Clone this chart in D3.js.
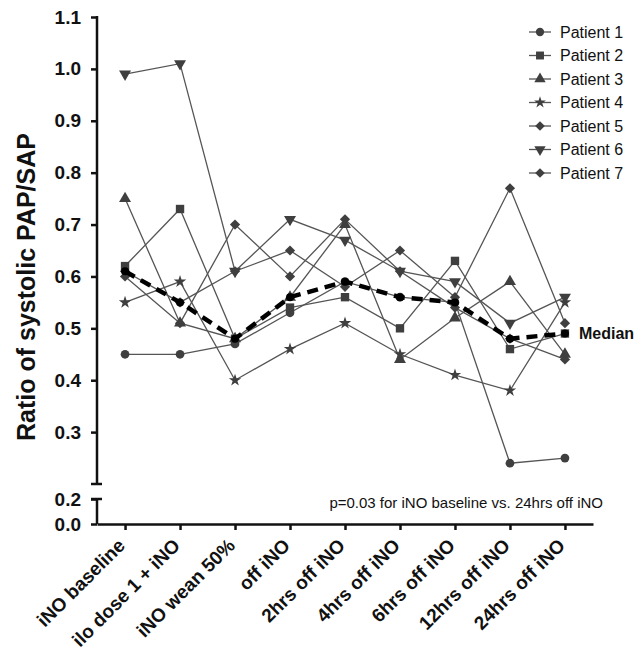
<!DOCTYPE html>
<html>
<head>
	<title>PAP/SAP ratio</title>
	<style type="text/css">
		body{ margin:0; background:#fff; }
		text{ font-family: Arial, 'Liberation Sans', sans-serif; }
	</style>
</head>
<body>

	<svg width=644 height=655 class="chart"></svg>
	<script type="text/javascript" src="https://cdn.jsdelivr.net/npm/d3@7/dist/d3.min.js"></script>
	<script type="text/javascript">

		categories = ['iNO baseline', 'ilo dose 1 + iNO', 'iNO wean 50%', 'off iNO', '2hrs off iNO',
			'4hrs off iNO', '6hrs off iNO', '12hrs off iNO', '24hrs off iNO']

		patient1 = [0.45, 0.45, 0.47, 0.53, 0.59, 0.56, 0.55, 0.24, 0.25]
		patient2 = [0.62, 0.73, 0.48, 0.54, 0.56, 0.50, 0.63, 0.46, 0.49]
		patient3 = [0.75, 0.51, 0.48, 0.56, 0.70, 0.44, 0.52, 0.59, 0.45]
		patient4 = [0.55, 0.59, 0.40, 0.46, 0.51, 0.45, 0.41, 0.38, 0.55]
		patient5 = [0.60, 0.51, 0.70, 0.60, 0.71, 0.61, 0.54, 0.48, 0.44]
		patient6 = [0.99, 1.01, 0.61, 0.71, 0.67, 0.61, 0.59, 0.51, 0.56]
		patient7 = [0.61, 0.55, 0.61, 0.65, 0.58, 0.65, 0.56, 0.77, 0.51]
		median   = [0.61, 0.55, 0.48, 0.56, 0.59, 0.56, 0.55, 0.48, 0.49]

		upperTicks = [0.3, 0.4, 0.5, 0.6, 0.7, 0.8, 0.9, 1.0, 1.1]
		lowerTicks = [0.0, 0.2]

		series = [
			{name: 'Patient 1', values: patient1, shape: 'circle'},
			{name: 'Patient 2', values: patient2, shape: 'square'},
			{name: 'Patient 3', values: patient3, shape: 'triangle'},
			{name: 'Patient 4', values: patient4, shape: 'star'},
			{name: 'Patient 5', values: patient5, shape: 'diamond'},
			{name: 'Patient 6', values: patient6, shape: 'down'},
			{name: 'Patient 7', values: patient7, shape: 'diamond'}
		]

		svg = d3.select('.chart')
		markColor = '#3f3f3f'
		lineColor = '#555'

		// x axis spans 97..593, points at 125..565
		x = d3.scalePoint().domain(categories).range([97, 593]).padding(0.51)
		// broken y axis: top part 0.2..1.1, bottom part 0..0.2
		yTop = d3.scaleLinear().domain([0.2, 1.1]).range([484, 17])
		yBot = d3.scaleLinear().domain([0, 0.2]).range([524, 499])

		function symbolPath(shape, scale){
			s = scale || 1
			if (shape == 'circle') return d3.symbol(d3.symbolCircle, 60*s)()
			if (shape == 'square') return d3.symbol(d3.symbolSquare, 70*s)()
			if (shape == 'triangle' || shape == 'down') return d3.symbol(d3.symbolTriangle, 62*s)()
			if (shape == 'star') return d3.symbol(d3.symbolStar, 48*s)()
			if (shape == 'diamond') return d3.symbol(d3.symbolSquare, 52*s)()
		}
		function symbolRotate(shape){
			if (shape == 'down') return ' rotate(180)'
			if (shape == 'diamond') return ' rotate(45)'
			return ''
		}

		line = d3.line()
			.x(function(d, i){ return x(categories[i]) })
			.y(function(d){ return yTop(d) })

		// axes
		axisTop = d3.axisLeft(yTop).tickValues(upperTicks).tickSize(6).tickFormat(d3.format('.1f'))
		gTop = svg.append('g').attr('class', 'y-top').attr('transform', 'translate(97,0)').call(axisTop)
		axisBot = d3.axisLeft(yBot).tickValues(lowerTicks).tickSize(6).tickFormat(d3.format('.1f'))
		gBot = svg.append('g').attr('class', 'y-bot').attr('transform', 'translate(97,0)').call(axisBot)

		svg.selectAll('.y-top .domain, .y-bot .domain').remove()
		svg.selectAll('.y-top line, .y-bot line').attr('stroke', '#111').attr('stroke-width', 2.5)
		svg.selectAll('.y-top text, .y-bot text')
			.attr('font-size', 19).attr('font-weight', 'bold').attr('fill', '#111').attr('x', -16)

		svg.append('line').attr('x1', 97).attr('x2', 97).attr('y1', yTop(1.1) - 1).attr('y2', yTop(0.2))
			.attr('stroke', '#111').attr('stroke-width', 2.5)
		svg.append('line').attr('x1', 91).attr('x2', 102).attr('y1', yTop(0.2)).attr('y2', yTop(0.2))
			.attr('stroke', '#111').attr('stroke-width', 2.5)
		svg.append('line').attr('x1', 97).attr('x2', 97).attr('y1', yBot(0.2)).attr('y2', yBot(0))
			.attr('stroke', '#111').attr('stroke-width', 2.5)
		svg.append('line').attr('x1', 91).attr('x2', 102).attr('y1', yBot(0.2)).attr('y2', yBot(0.2))
			.attr('stroke', '#111').attr('stroke-width', 2.5)

		axisX = d3.axisBottom(x).tickSize(6).tickSizeOuter(0)
		gx = svg.append('g').attr('class', 'x-axis').attr('transform', 'translate(0,' + yBot(0) + ')').call(axisX)
		gx.select('.domain').attr('stroke', '#111').attr('stroke-width', 2.5)
		gx.selectAll('line').attr('stroke', '#111').attr('stroke-width', 2.5)
		gx.selectAll('text')
			.attr('font-size', 19).attr('font-weight', 'bold').attr('fill', '#111')
			.attr('text-anchor', 'end')
			.attr('x', 0).attr('y', 0).attr('dy', '0.35em')
			.attr('transform', 'translate(-4,18) rotate(-45)')

		svg.append('text')
			.attr('transform', 'translate(26,' + 287 + ') rotate(-90)')
			.attr('text-anchor', 'middle')
			.attr('dy', '0.35em')
			.attr('font-size', 25).attr('font-weight', 'bold').attr('fill', '#111')
			.text('Ratio of systolic PAP/SAP')

		// patient lines
		svg.append('g')
			.selectAll('path')
			.data(series)
			.enter()
			.append('path')
			.attr('d', function(d){ return line(d.values) })
			.attr('fill', 'none')
			.attr('stroke', lineColor)
			.attr('stroke-width', 1.3)

		// patient markers
		series.forEach(function(s){
			svg.append('g')
				.selectAll('path')
				.data(s.values)
				.enter()
				.append('path')
				.attr('d', symbolPath(s.shape))
				.attr('transform', function(d, i){
					return 'translate(' + x(categories[i]) + ',' + yTop(d) + ')' + symbolRotate(s.shape)
				})
				.attr('fill', markColor)
		})

		// median
		svg.append('path')
			.attr('d', line(median))
			.attr('fill', 'none')
			.attr('stroke', '#000')
			.attr('stroke-width', 4.5)
			.attr('stroke-dasharray', '11,7')
		svg.append('g')
			.selectAll('circle')
			.data(median)
			.enter()
			.append('circle')
			.attr('cx', function(d, i){ return x(categories[i]) })
			.attr('cy', function(d){ return yTop(d) })
			.attr('r', 4)
			.attr('fill', '#000')

		svg.append('text')
			.attr('x', x(categories[8]) + 14)
			.attr('y', yTop(median[8]))
			.attr('dy', '0.35em')
			.attr('font-size', 16).attr('font-weight', 'bold').attr('fill', '#111')
			.text('Median')

		// legend
		legend = svg.append('g').attr('class', 'legend')
		rows = legend.selectAll('g')
			.data(series)
			.enter()
			.append('g')
			.attr('transform', function(d, i){ return 'translate(540,' + (32 + i*23.5) + ')' })
		rows.append('line')
			.attr('x1', -11).attr('x2', 11)
			.attr('stroke', lineColor).attr('stroke-width', 1.3)
		rows.append('path')
			.attr('d', function(d){ return symbolPath(d.shape, 0.9) })
			.attr('transform', function(d){ return 'translate(0,0)' + symbolRotate(d.shape) })
			.attr('fill', markColor)
		rows.append('text')
			.attr('x', 20)
			.attr('dy', '0.35em')
			.attr('font-size', 16)
			.attr('fill', '#111')
			.text(function(d){ return d.name })

		svg.append('text')
			.attr('x', 603).attr('y', 503)
			.attr('dy', '0.35em')
			.attr('text-anchor', 'end')
			.attr('font-size', 15)
			.attr('fill', '#111')
			.text('p=0.03 for iNO baseline vs. 24hrs off iNO')

	</script>
	
</body>
</html>
